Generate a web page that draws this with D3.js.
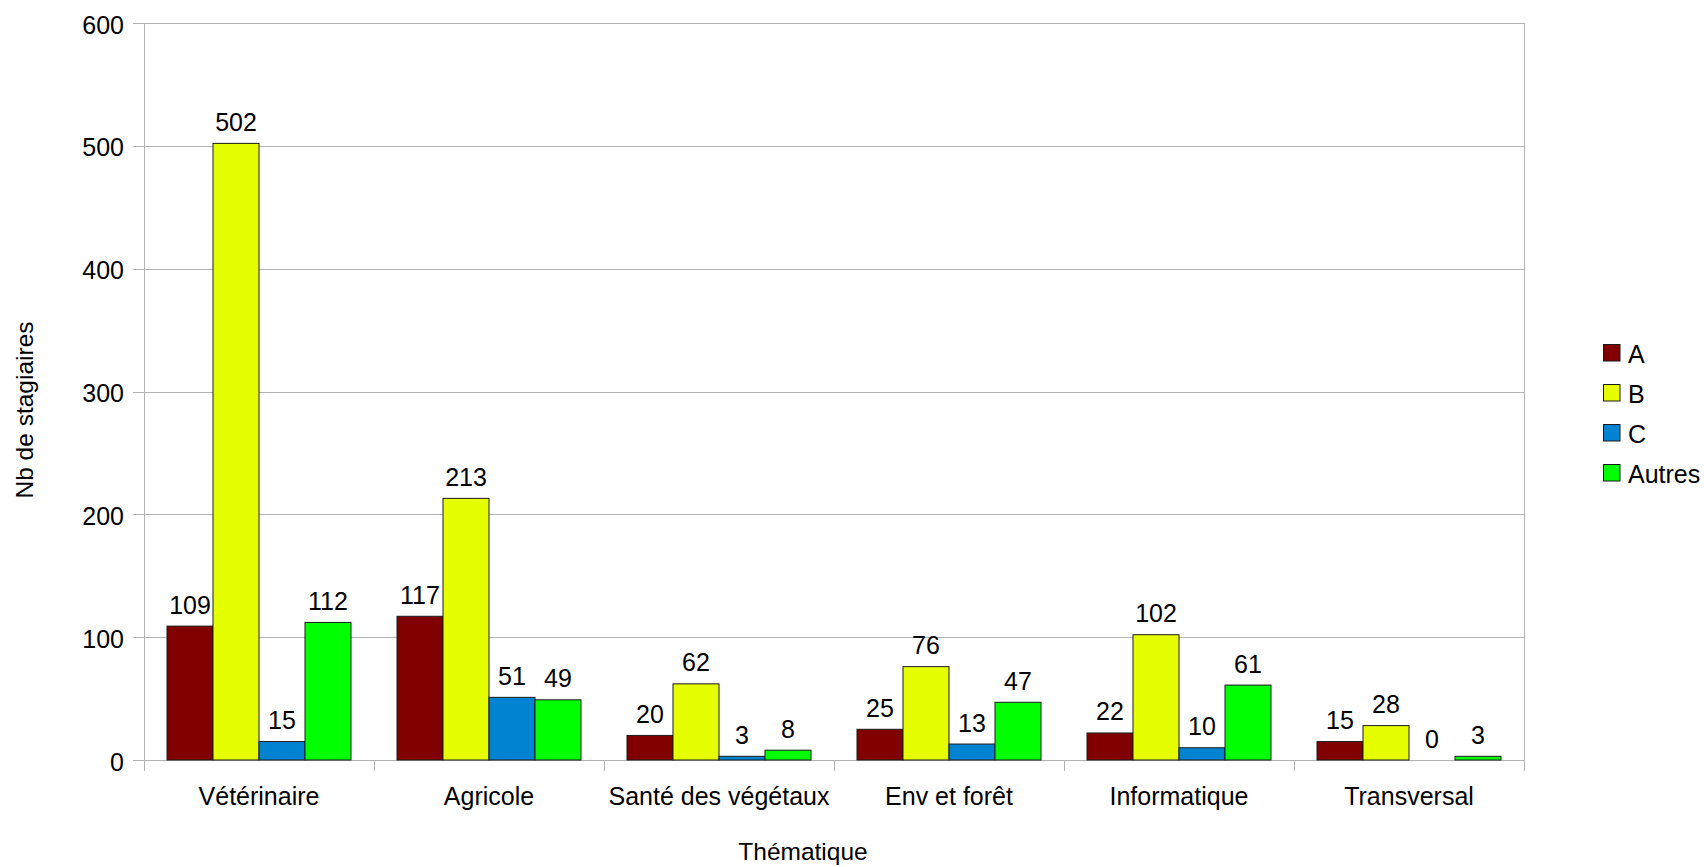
<!DOCTYPE html>
<html>
<head>
<meta charset="utf-8">
<script src="https://cdn.jsdelivr.net/npm/d3@7"></script>
<style>
  html, body { margin: 0; padding: 0; background: #fff; }
  svg { display: block; font-family: "Liberation Sans", Arial, sans-serif; }
</style>
</head>
<body>
<svg id="chart" width="1704" height="867"></svg>
<script>
const categories = ["Vétérinaire", "Agricole", "Santé des végétaux", "Env et forêt", "Informatique", "Transversal"];
const seriesNames = ["A", "B", "C", "Autres"];
const valuesA = [109, 117, 20, 25, 22, 15];
const valuesB = [502, 213, 62, 76, 102, 28];
const valuesC = [15, 51, 3, 13, 10, 0];
const valuesAutres = [112, 49, 8, 47, 61, 3];
const seriesColors = ["#800000", "#e6ff00", "#0084d1", "#00ff00"];
const yTicks = [0, 100, 200, 300, 400, 500, 600];
const xTitle = "Thématique";
const yTitle = "Nb de stagiaires";

const seriesValues = [valuesA, valuesB, valuesC, valuesAutres];

const svg = d3.select("#chart");
const plotLeft = 144, plotRight = 1524, plotTop = 23, plotBottom = 760;
const gridColor = "#b3b3b3";

const x = d3.scaleBand().domain(categories).range([plotLeft, plotRight]).paddingInner(0).paddingOuter(0);
const xs = d3.scaleBand().domain(seriesNames).range([0, x.bandwidth()]).paddingInner(0).paddingOuter(0.5);
const y = d3.scaleLinear().domain([0, 600]).range([plotBottom, plotTop]);

// gridlines + y ticks
const yAxis = d3.axisLeft(y).tickValues(yTicks).tickSize(plotRight - plotLeft + 11).tickFormat(d => d).tickPadding(9);
const gy = svg.append("g").attr("transform", `translate(${plotRight},0)`).call(yAxis);
gy.select(".domain").remove();
gy.selectAll(".tick line").attr("stroke", gridColor).attr("stroke-width", 1).attr("shape-rendering", "crispEdges");
gy.selectAll(".tick text").attr("font-size", 25).attr("fill", "#000").attr("dy", "0.4em")
  .attr("font-family", "'Liberation Sans', Arial, sans-serif");

// frame lines
svg.append("line").attr("x1", plotLeft).attr("x2", plotLeft).attr("y1", plotTop).attr("y2", plotBottom)
  .attr("stroke", gridColor).attr("shape-rendering", "crispEdges");
svg.append("line").attr("x1", plotRight).attr("x2", plotRight).attr("y1", plotTop).attr("y2", plotBottom + 11)
  .attr("stroke", gridColor).attr("shape-rendering", "crispEdges");

// x axis
const xAxis = d3.axisBottom(x).tickSize(0).tickPadding(0);
const gx = svg.append("g").attr("transform", `translate(0,${plotBottom})`).call(xAxis);
gx.select(".domain").attr("stroke", gridColor).attr("shape-rendering", "crispEdges");
gx.selectAll(".tick line").remove();
gx.selectAll(".tick text").attr("font-size", 25).attr("fill", "#000").attr("y", 45).attr("dy", 0)
  .attr("font-family", "'Liberation Sans', Arial, sans-serif");
// category boundary ticks
const boundaries = categories.map(c => x(c)).concat([plotRight]);
svg.append("g").selectAll("line").data(boundaries).join("line")
  .attr("x1", d => d).attr("x2", d => d).attr("y1", plotBottom).attr("y2", plotBottom + 11)
  .attr("stroke", gridColor).attr("shape-rendering", "crispEdges");

// bars
const groups = svg.append("g").selectAll("g").data(categories).join("g")
  .attr("transform", d => `translate(${x(d)},0)`);
seriesNames.forEach((s, si) => {
  groups.append("rect")
    .attr("x", xs(s))
    .attr("width", xs.bandwidth())
    .attr("y", (d, i) => y(seriesValues[si][i]))
    .attr("height", (d, i) => y(0) - y(seriesValues[si][i]))
    .attr("fill", seriesColors[si])
    .attr("stroke", (d, i) => seriesValues[si][i] > 0 ? "#1a1a1a" : "none")
    .attr("stroke-width", 1);
  groups.append("text")
    .attr("x", xs(s) + xs.bandwidth() / 2)
    .attr("y", (d, i) => y(seriesValues[si][i]) - 12.5)
    .attr("text-anchor", "middle")
    .attr("font-size", 25)
    .attr("fill", "#000")
    .text((d, i) => seriesValues[si][i]);
});

// axis titles
svg.append("text").attr("x", 803).attr("y", 860).attr("text-anchor", "middle")
  .attr("font-size", 24.5).attr("fill", "#000").text(xTitle);
svg.append("text").attr("transform", "translate(33,410) rotate(-90)").attr("text-anchor", "middle")
  .attr("font-size", 24.5).attr("fill", "#000").text(yTitle);

// legend
const legend = svg.append("g").selectAll("g").data(seriesNames).join("g")
  .attr("transform", (d, i) => `translate(1603.5,${344.5 + i * 40})`);
legend.append("rect").attr("width", 16.5).attr("height", 16.5)
  .attr("fill", (d, i) => seriesColors[i]).attr("stroke", "#1a1a1a").attr("stroke-width", 1);
legend.append("text").attr("x", 24.5).attr("y", 18).attr("font-size", 25).attr("fill", "#000").text(d => d);
</script>
</body>
</html>
